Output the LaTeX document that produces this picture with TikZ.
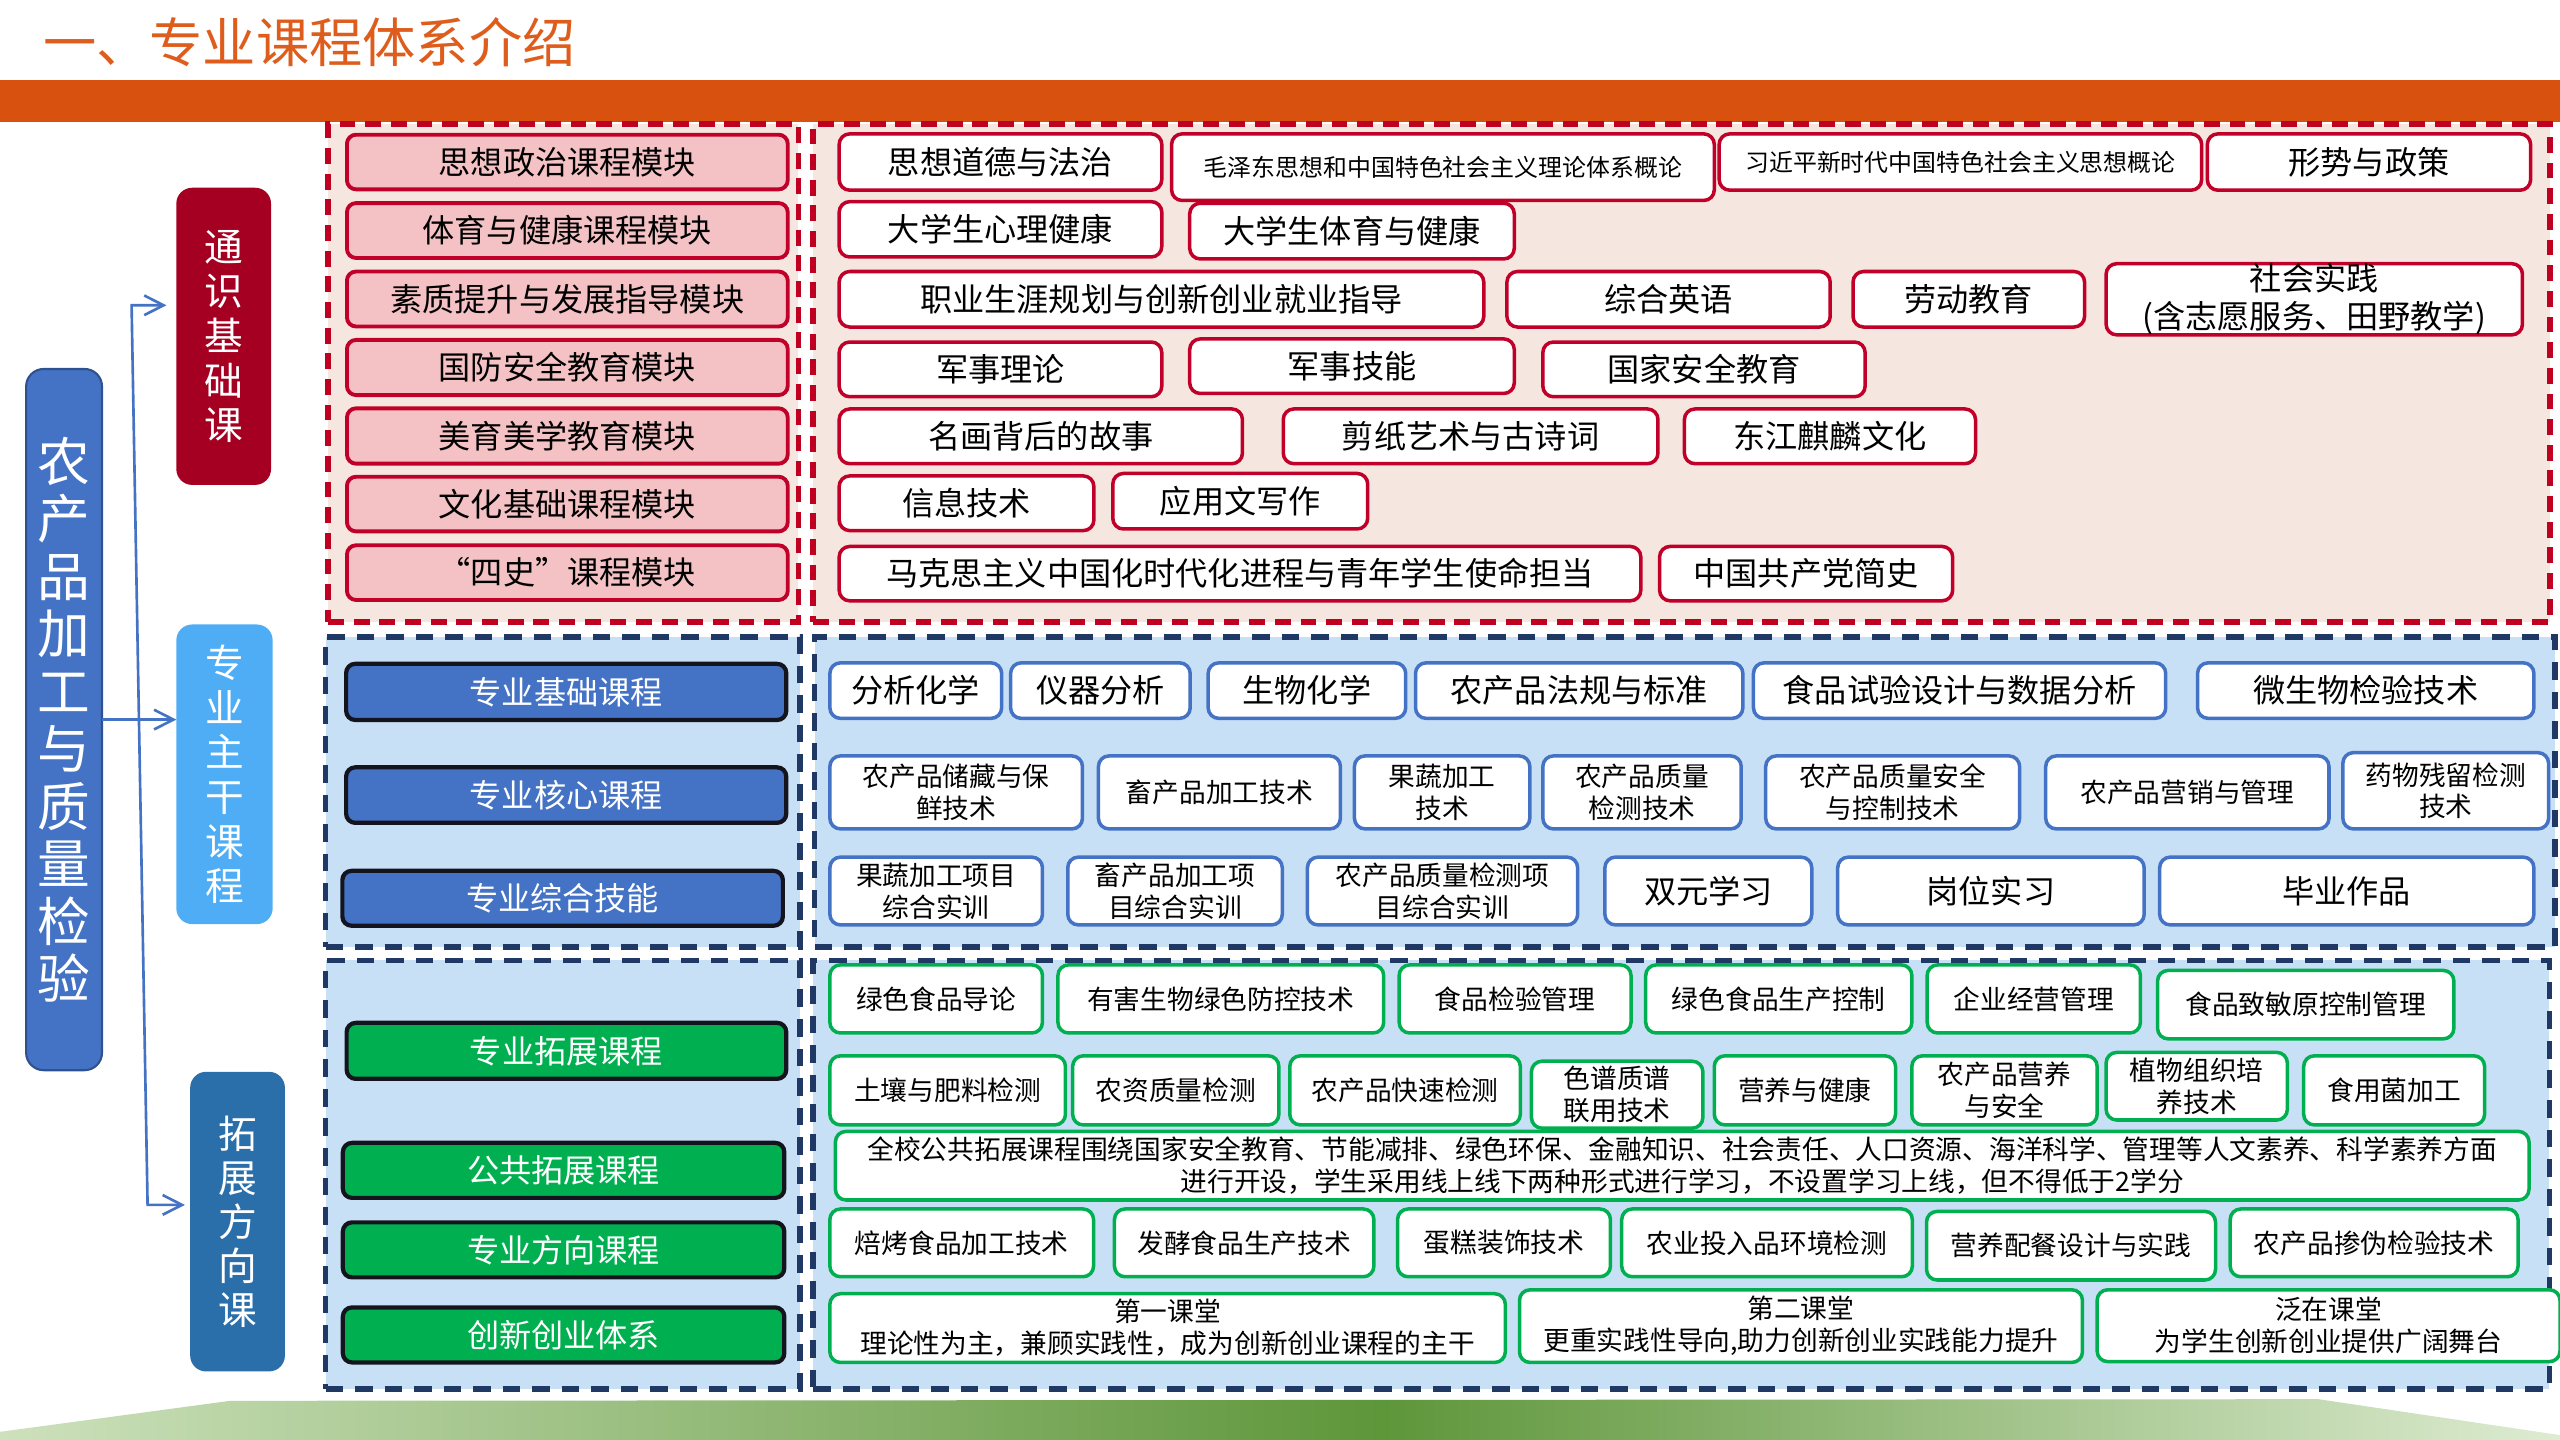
\documentclass[tikz,border=0pt]{standalone}
\usepackage{fontspec}
\newfontfamily\cjk{Noto Sans CJK SC}
\usetikzlibrary{arrows.meta}
\definecolor{barorange}{RGB}{217,81,15}
\definecolor{titleorange}{RGB}{222,92,28}
\definecolor{redb}{RGB}{192,0,40}
\definecolor{dashred}{RGB}{192,0,32}
\definecolor{beige}{RGB}{245,231,224}
\definecolor{pinkf}{RGB}{244,194,196}
\definecolor{skybg}{RGB}{200,224,246}
\definecolor{navy}{RGB}{31,56,100}
\definecolor{bluem}{RGB}{68,114,196}
\definecolor{greenm}{RGB}{0,176,80}
\definecolor{lblred}{RGB}{165,0,33}
\definecolor{lblsky}{RGB}{79,173,245}
\definecolor{lbldark}{RGB}{42,111,170}
\definecolor{mainedge}{RGB}{47,82,143}
\definecolor{modedge}{RGB}{20,20,30}
\definecolor{bandL}{RGB}{205,225,188}
\definecolor{bandD}{RGB}{94,150,58}
\definecolor{bandR}{RGB}{222,236,210}
\pgfdeclarehorizontalshading{band}{100bp}{color(0bp)=(bandL); color(25bp)=(bandL); color(52bp)=(bandD); color(75bp)=(bandR); color(100bp)=(bandR)}
\newcommand\Fa{\fontsize{9.15}{10.7}\selectfont}
\newcommand\Fb{\fontsize{7.6}{9.1}\selectfont}
\newcommand\Fc{\fontsize{6.8}{8}\selectfont}
\def\pxu{0.016327}
\newcommand\bx[7]{%
  \pgfmathsetmacro\bxw{(#5-#3)*\pxu}%
  \pgfmathsetmacro\bxh{(#6-#4)*\pxu}%
  \pgfmathsetmacro\bxx{(#3+#5)/2}%
  \pgfmathsetmacro\bxy{(#4+#6)/2}%
  \node[#1, minimum width=\bxw cm, minimum height=\bxh cm] (#2) at (\bxx,\bxy) {#7};}
\tikzset{
  base/.style={inner sep=0pt, outer sep=0pt, align=center, font=\cjk\Fa, text=black},
  fb/.style={font=\cjk\Fb},
  fc/.style={font=\cjk\Fc},
  secred/.style={base, draw=dashred, line width=1.6pt, dash pattern=on 4.5pt off 2.8pt, fill=beige},
  secblue/.style={base, draw=navy, line width=1.6pt, dash pattern=on 5pt off 3.4pt, fill=skybg},
  pinkmod/.style={base, draw=redb, line width=1.1pt, fill=pinkf, rounded corners=2.6pt},
  redbox/.style={base, draw=redb, line width=1pt, fill=white, rounded corners=3pt},
  bluemod/.style={base, draw=modedge, line width=1.2pt, fill=bluem, rounded corners=2.6pt, text=white},
  bluebox/.style={base, draw=bluem, line width=1pt, fill=white, rounded corners=3pt},
  greenmod/.style={base, draw=modedge, line width=1.2pt, fill=greenm, rounded corners=2.6pt, text=white},
  greenbox/.style={base, draw=greenm, line width=1pt, fill=white, rounded corners=3pt},
  lbl/.style={base, rounded corners=4.5pt, text=white, font=\cjk\fontsize{11}{12.7}\selectfont},
  conn/.style={draw=bluem, line width=0.75pt},
  arr/.style={-{Straight Barb[length=5.5pt,width=5.6pt]}}
}
\begin{document}
\begin{tikzpicture}[x=0.016327cm,y=-0.016327cm]
\useasboundingbox (0,0) rectangle (1568,882);
% header
\node[base, text=titleorange, font=\cjk\fontsize{15.15}{16}\selectfont] (title) at (189.5,26) {一、专业课程体系介绍};
\fill[barorange] (0,48.7) rectangle (1568,75);
% bottom band
\shade[shading=band] (0,882) -- (0,877) -- (141,858) -- (1420,857) -- (1568,879) -- (1568,882) -- cycle;
% left labels
\bx{lbl, fill=bluem, draw=mainedge, line width=0.6pt, rounded corners=5pt, font=\cjk\fontsize{15}{16.35}\selectfont}{main}{16}{226}{62.5}{655.5}{农\\产\\品\\加\\工\\与\\质\\量\\检\\验}
\bx{lbl, fill=lblred}{tongshi}{108}{115}{166}{297}{通\\识\\基\\础\\课}
\bx{lbl, fill=lblsky}{zhuanye}{108}{382.5}{167}{566}{专\\业\\主\\干\\课\\程}
\bx{lbl, fill=lbldark, font=\cjk\fontsize{11}{12.5}\selectfont}{tuozhan}{116.5}{656.5}{174.5}{840}{拓\\展\\方\\向\\课}
% connectors
\coordinate (vtop) at (80.6,187);
\coordinate (vbot) at (90.4,738);
\draw[conn, {Straight Barb[length=5.5pt,width=5.6pt]}-{Straight Barb[length=5.5pt,width=5.6pt]}, shorten <=2.8pt, shorten >=1.5pt] (tongshi.west |- vtop) -- (vtop) -- (vbot) -- (tuozhan.west |- vbot);
\draw[conn, arr] (main.east) -- (zhuanye.west |- main.east);
% section backgrounds
\bx{secred}{s1L}{201}{76}{489}{381}{}
\bx{secred}{s1R}{498}{76}{1562}{381}{}
\bx{secblue}{s2L}{199.4}{390}{490}{580}{}
\bx{secblue}{s2R}{499}{390}{1565}{580}{}
\bx{secblue}{s3L}{199.4}{588.3}{490}{850.6}{}
\bx{secblue}{s3R}{498}{588.3}{1561.5}{850.6}{}
% section 1 left modules
\bx{pinkmod}{m1}{212.5}{82.5}{482.5}{116}{思想政治课程模块}
\bx{pinkmod}{m2}{212.5}{124.4}{482.5}{158}{体育与健康课程模块}
\bx{pinkmod}{m3}{212.5}{166.3}{482.5}{200}{素质提升与发展指导模块}
\bx{pinkmod}{m4}{212.5}{208.2}{482.5}{242}{国防安全教育模块}
\bx{pinkmod}{m5}{212.5}{250.1}{482.5}{284}{美育美学教育模块}
\bx{pinkmod}{m6}{212.5}{292}{482.5}{325.5}{文化基础课程模块}
\bx{pinkmod}{m7}{212.5}{334}{482.5}{367.5}{“四史”课程模块}
% section 1 right courses
\bx{redbox}{r1a}{514}{82}{711.6}{116.5}{思想道德与法治}
\bx{redbox, fc}{r1b}{717.6}{82}{1050}{122.8}{毛泽东思想和中国特色社会主义理论体系概论}
\bx{redbox, fc}{r1c}{1053}{82}{1348.5}{116.5}{习近平新时代中国特色社会主义思想概论}
\bx{redbox}{r1d}{1352}{82}{1550}{116.5}{形势与政策}
\bx{redbox}{r2a}{514}{123.5}{711.6}{157.4}{大学生心理健康}
\bx{redbox}{r2b}{728.7}{124.5}{927.5}{158.6}{大学生体育与健康}
\bx{redbox}{r3a}{514}{166.3}{908.8}{200.3}{职业生涯规划与创新创业就业指导}
\bx{redbox}{r3b}{923}{166.3}{1121}{200.3}{综合英语}
\bx{redbox}{r3c}{1135}{166.3}{1276.8}{200.3}{劳动教育}
\bx{redbox}{r3d}{1290}{166.3}{1545}{200.3}{社会实践\\(含志愿服务、田野教学)}
\bx{redbox}{r4a}{514}{209.5}{711.6}{243}{军事理论}
\bx{redbox}{r4b}{728.7}{207.6}{927.5}{241}{军事技能}
\bx{redbox}{r4c}{945}{209.5}{1142.4}{243}{国家安全教育}
\bx{redbox}{r5a}{514}{250.5}{761}{284}{名画背后的故事}
\bx{redbox}{r5b}{786}{250.5}{1015.5}{284}{剪纸艺术与古诗词}
\bx{redbox}{r5c}{1031.7}{250.5}{1210}{284}{东江麒麟文化}
\bx{redbox}{r6a}{514}{291.5}{670}{325}{信息技术}
\bx{redbox}{r6b}{681.6}{290}{837.7}{324}{应用文写作}
\bx{redbox}{r7a}{514}{334.7}{1005}{368}{马克思主义中国化时代化进程与青年学生使命担当}
\bx{redbox}{r7b}{1016.5}{334.7}{1196}{368}{中国共产党简史}
% section 2 left modules
\bx{bluemod}{b1}{212}{406.6}{481.6}{441}{专业基础课程}
\bx{bluemod}{b2}{212}{470}{481.6}{504}{专业核心课程}
\bx{bluemod}{b3}{209.7}{533.4}{479.5}{567}{专业综合技能}
% section 2 right courses
\bx{bluebox}{p1}{508.3}{406}{613.5}{440}{分析化学}
\bx{bluebox}{p2}{619}{406}{729}{440}{仪器分析}
\bx{bluebox}{p3}{740}{406}{861}{440}{生物化学}
\bx{bluebox}{p4}{867}{406}{1067.5}{440}{农产品法规与标准}
\bx{bluebox}{p5}{1074}{406}{1326.5}{440}{食品试验设计与数据分析}
\bx{bluebox}{p6}{1346}{406}{1552}{440}{微生物检验技术}
\bx{bluebox, fb}{q1}{508.3}{463}{663}{507.7}{农产品储藏与保\\鲜技术}
\bx{bluebox, fb}{q2}{672.8}{463}{821}{507.7}{畜产品加工技术}
\bx{bluebox, fb}{q3}{829.6}{463}{937}{507.7}{果蔬加工\\技术}
\bx{bluebox, fb}{q4}{945}{463}{1066.5}{507.7}{农产品质量\\检测技术}
\bx{bluebox, fb}{q5}{1081.5}{463}{1237}{507.7}{农产品质量安全\\与控制技术}
\bx{bluebox, fb}{q6}{1253}{463}{1426.5}{507.7}{农产品营销与管理}
\bx{bluebox, fb}{q7}{1435}{461}{1561}{507.7}{药物残留检测\\技术}
\bx{bluebox, fb}{t1}{508.3}{525}{638.5}{566.5}{果蔬加工项目\\综合实训}
\bx{bluebox, fb}{t2}{654}{525}{785.4}{566.5}{畜产品加工项\\目综合实训}
\bx{bluebox, fb}{t3}{800.8}{525}{966.3}{566.5}{农产品质量检测项\\目综合实训}
\bx{bluebox}{t4}{983}{525}{1109.7}{566.5}{双元学习}
\bx{bluebox}{t5}{1125.6}{525}{1313.3}{566.5}{岗位实习}
\bx{bluebox}{t6}{1322.8}{525}{1552}{566.5}{毕业作品}
% section 3 left modules
\bx{greenmod}{g1}{212.3}{626.5}{481.6}{660.8}{专业拓展课程}
\bx{greenmod}{g2}{210}{700}{480.4}{733.7}{公共拓展课程}
\bx{greenmod}{g3}{210}{748.7}{480.4}{782.4}{专业方向课程}
\bx{greenmod}{g4}{210}{800.8}{480.4}{834.5}{创新创业体系}
% section 3 right courses
\bx{greenbox, fb}{e1}{508.3}{591}{638.5}{632.7}{绿色食品导论}
\bx{greenbox, fb}{e2}{648}{591}{847.5}{632.7}{有害生物绿色防控技术}
\bx{greenbox, fb}{e3}{857}{591}{999}{632.7}{食品检验管理}
\bx{greenbox, fb}{e4}{1008}{591}{1171}{632.7}{绿色食品生产控制}
\bx{greenbox, fb}{e5}{1180.4}{591}{1311}{632.7}{企业经营管理}
\bx{greenbox, fb}{e6}{1321.5}{594.4}{1503}{636.3}{食品致敏原控制管理}
\bx{greenbox, fb}{f1}{508.3}{646.7}{652.6}{689}{土壤与肥料检测}
\bx{greenbox, fb}{f2}{657}{646.7}{783.3}{689}{农资质量检测}
\bx{greenbox, fb}{f3}{790}{646.7}{931.2}{689}{农产品快速检测}
\bx{greenbox, fb}{f4}{938}{650}{1043}{691}{色谱质谱\\联用技术}
\bx{greenbox, fb}{f5}{1050}{646.7}{1161}{689}{营养与健康}
\bx{greenbox, fb}{f6}{1171}{646.7}{1284.5}{689}{农产品营养\\与安全}
\bx{greenbox, fb}{f7}{1290}{644.6}{1401}{686}{植物组织培\\养技术}
\bx{greenbox, fb}{f8}{1411}{646.7}{1521.8}{689}{食用菌加工}
\bx{greenbox, fb}{h1}{511.7}{693}{1549}{735}{全校公共拓展课程围绕国家安全教育、节能减排、绿色环保、金融知识、社会责任、人口资源、海洋科学、管理等人文素养、科学素养方面\\进行开设，学生采用线上线下两种形式进行学习，不设置学习上线，但不得低于2学分}
\bx{greenbox, fb}{k1}{508.3}{740.5}{669.8}{782}{焙烤食品加工技术}
\bx{greenbox, fb}{k2}{682.6}{740.5}{841.5}{782}{发酵食品生产技术}
\bx{greenbox, fb}{k3}{856}{740.5}{986.4}{782}{蛋糕装饰技术}
\bx{greenbox, fb}{k4}{993.3}{740.5}{1171.3}{782}{农业投入品环境检测}
\bx{greenbox, fb}{k5}{1180}{742}{1357}{784}{营养配餐设计与实践}
\bx{greenbox, fb}{k6}{1366}{740.5}{1542.3}{782}{农产品掺伪检验技术}
\bx{greenbox, fb}{c1}{508.3}{792.4}{922}{834.5}{第一课堂\\理论性为主，兼顾实践性，成为创新创业课程的主干}
\bx{greenbox, fb}{c2}{930.7}{790}{1275.5}{834.5}{第二课堂\\更重实践性导向,助力创新创业实践能力提升}
\bx{greenbox, fb}{c3}{1284.5}{790}{1568}{834}{泛在课堂\\为学生创新创业提供广阔舞台}
\end{tikzpicture}
\end{document}
